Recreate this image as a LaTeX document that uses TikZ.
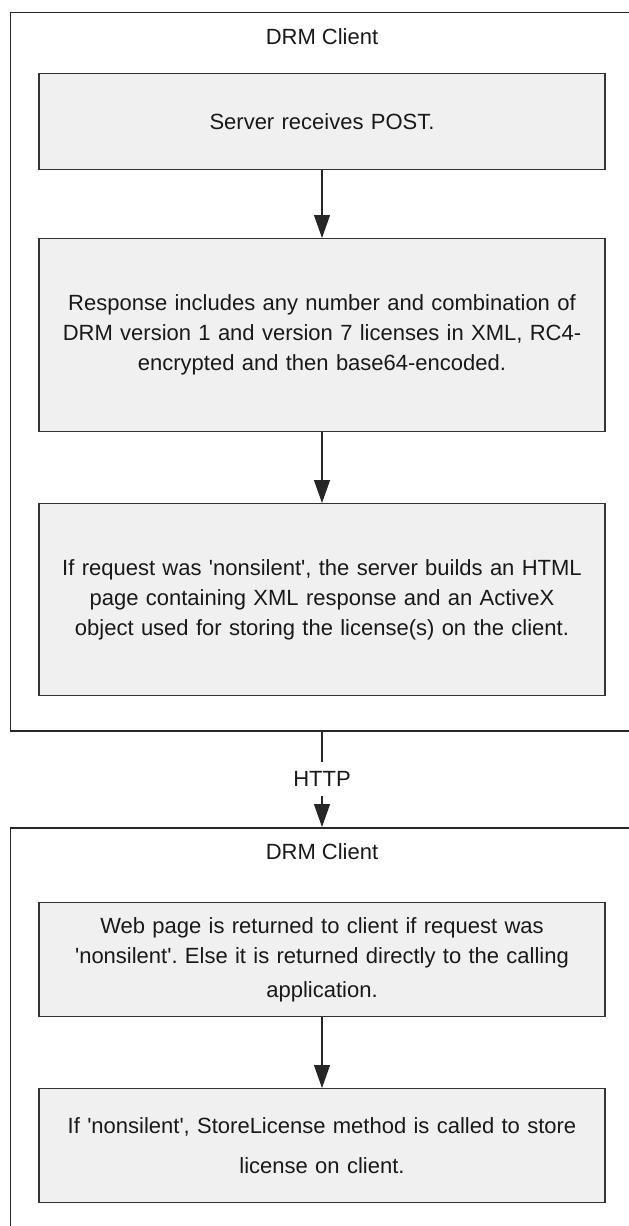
\documentclass[tikz,border=0pt]{standalone}
\usepackage{fontspec}
\setmainfont{Liberation Sans}[Ligatures=TeXOff]
\usetikzlibrary{arrows.meta}
\frenchspacing
\begin{document}
\begin{tikzpicture}[x=1pt,y=-1pt,
  frame/.style={draw=black!85, line width=1.6pt, rectangle, inner sep=0pt, anchor=north west},
  stepbox/.style={draw=black!80, line width=1.4pt, fill=black!6, rectangle, minimum width=566pt,
     anchor=north, text width=560pt, align=center, inner sep=0pt,
     font=\fontsize{22}{30}\selectfont\frenchspacing, text=black!90},
  flow/.style={draw=black!85, line width=1.3pt, -{Triangle[length=23pt,width=16pt]}},
  title/.style={font=\fontsize{22}{25}\selectfont, text=black!90, inner sep=0pt},
  lbl/.style={fill=white, font=\fontsize{22}{25}\selectfont, text=black!90, inner xsep=2pt, inner ysep=0pt, minimum height=34pt}
]
\useasboundingbox (0,0) rectangle (629,1226);
\fill[white] (0,0) rectangle (629,1226);
\clip (0,0) rectangle (629,1226);

% upper container
\node[frame, minimum width=700pt, minimum height=718.5pt] (f1) at (9.5,11.5) {};
\node[title] (t1) at (322,37) {DRM Client};

\node[stepbox, minimum height=96pt] (b1) at (322,73) {Server receives POST.};
\node[stepbox, minimum height=193pt] (b2) at (322,238) {Response includes any number and combination of\\
DRM version 1 and version 7 licenses in XML, RC4-\\
encrypted and then base64-encoded.};
\node[stepbox, minimum height=192pt] (b3) at (322,503) {If request was 'nonsilent', the server builds an HTML\\
page containing XML response and an ActiveX\\
object used for storing the license(s) on the client.};

\draw[flow] (b1) -- (b2);
\draw[flow] (b2) -- (b3);

% lower container
\node[frame, minimum width=700pt, minimum height=500pt] (f2) at (9.5,827) {};
\node[title] (t2) at (322,852) {DRM Client};

\node[stepbox, minimum height=114pt] (b4) at (322,902) {Web page is returned to client if request was\\
'nonsilent'. Else it is returned directly to the calling\\[4pt]
application.};
\node[stepbox, minimum height=114pt] (b5) at (322,1088) {If 'nonsilent', StoreLicense method is called to store\\[10pt]
license on client.};

\draw[flow] (b4) -- (b5);

% HTTP link between containers
\draw[flow] (b3 |- f1.south) -- node[lbl] (http) {HTTP} (b3 |- f2.north);
\end{tikzpicture}
\end{document}
